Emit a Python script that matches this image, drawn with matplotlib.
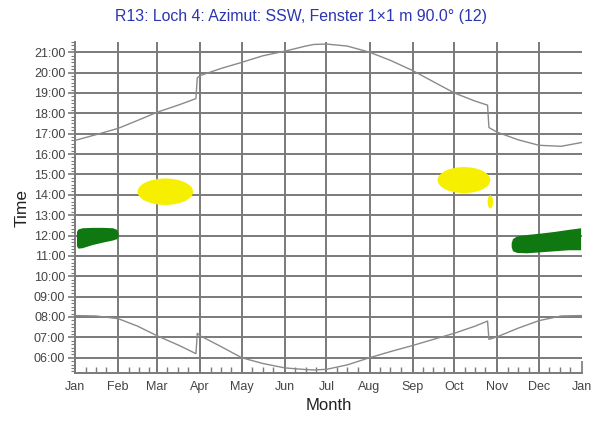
import matplotlib
matplotlib.use("Agg")
import matplotlib.pyplot as plt
from matplotlib.patches import Ellipse

plt.rcParams["font.family"] = "Liberation Sans"

# month starts (day of year) and labels
month_days = [0, 31, 59, 90, 120, 151, 181, 212, 243, 273, 304, 334, 365]
month_labels = ["Jan", "Feb", "Mar", "Apr", "May", "Jun", "Jul",
                "Aug", "Sep", "Oct", "Nov", "Dec", "Jan"]

hour_ticks = list(range(6, 22))
hour_labels = ["%02d:00" % h for h in hour_ticks]

# sunset curve (hours)
sunset_days = [0, 15, 31, 45, 59, 75, 87, 88, 90, 105, 120, 135, 151, 166,
               172, 181, 196, 212, 227, 243, 258, 273, 288, 297, 298, 304,
               319, 334, 350, 365]
sunset_hrs = [16.67, 16.95, 17.26, 17.65, 18.05, 18.42, 18.72, 19.75, 19.85,
              20.2, 20.5, 20.82, 21.05, 21.3, 21.38, 21.4, 21.3, 21.0, 20.6,
              20.1, 19.55, 19.0, 18.6, 18.4, 17.3, 17.07, 16.7, 16.43, 16.38,
              16.57]

# sunrise curve (hours)
sunrise_days = [0, 15, 31, 45, 59, 75, 87, 88, 90, 105, 120, 135, 151, 166,
                172, 181, 196, 212, 227, 243, 258, 273, 288, 297, 298, 304,
                319, 334, 350, 365]
sunrise_hrs = [8.07, 8.05, 7.92, 7.55, 7.08, 6.6, 6.2, 7.2, 7.08, 6.55, 6.0,
               5.72, 5.5, 5.42, 5.4, 5.43, 5.65, 6.0, 6.3, 6.6, 6.9, 7.2,
               7.55, 7.8, 6.9, 7.03, 7.45, 7.82, 8.05, 8.07]

# green areas (direct sun, winter)
green1_days = [1, 2, 5, 12, 20, 27, 30, 31]
green1_top = [12.2, 12.32, 12.38, 12.4, 12.4, 12.38, 12.3, 12.1]
green1_bot = [11.5, 11.38, 11.4, 11.55, 11.68, 11.78, 11.85, 11.95]

green2_days = [314, 315, 318, 325, 335, 345, 355, 364]
green2_top = [11.65, 11.85, 11.98, 12.05, 12.12, 12.2, 12.3, 12.38]
green2_bot = [11.45, 11.25, 11.17, 11.15, 11.2, 11.25, 11.3, 11.3]

# yellow areas: centre day, centre hour, width (days), height (hours)
yellow_x = [65, 280, 299]
yellow_y = [14.15, 14.72, 13.65]
yellow_w = [40, 38, 4]
yellow_h = [1.3, 1.28, 0.65]

grid_col = "#7a7a7a"

fig = plt.figure(figsize=(5.96, 4.26), dpi=100)
ax = fig.add_axes([0.126, 0.1244, 0.8505, 0.777])

# grid
ax.hlines(hour_ticks, 0, 365, color=grid_col, linewidth=1.4, zorder=1)
ax.vlines(month_days[1:12], 5.25, 21.5, color=grid_col, linewidth=1.4, zorder=1)

# sun areas
ax.fill_between(green1_days, green1_bot, green1_top, color="#107810",
                linewidth=0, zorder=2)
ax.fill_between(green2_days, green2_bot, green2_top, color="#107810",
                linewidth=0, zorder=2)
for x, y, w, h in zip(yellow_x, yellow_y, yellow_w, yellow_h):
    ax.add_patch(Ellipse((x, y), w, h, facecolor="#f7ef00",
                         edgecolor="none", zorder=2))

# sunrise / sunset
ax.plot(sunset_days, sunset_hrs, color="#8a8a8a", linewidth=1.0, zorder=3)
ax.plot(sunrise_days, sunrise_hrs, color="#8a8a8a", linewidth=1.0, zorder=3)

ax.set_xlim(0, 365)
ax.set_ylim(5.25, 21.5)

ax.set_xticks(month_days)
ax.set_xticklabels(month_labels)
minor_x = [m + d for m in month_days[:-1] for d in (7.5, 15, 22.5)]
ax.set_xticks(minor_x, minor=True)
ax.set_yticks(hour_ticks)
ax.set_yticklabels(hour_labels)
ax.set_yticks([h + k / 6 for h in range(5, 22) for k in range(6)
               if 5.25 <= h + k / 6 <= 21.5], minor=True)

ax.tick_params(axis="x", which="major", direction="in", length=9,
               color=grid_col, width=1.2, labelsize=9, labelcolor="#444444",
               pad=6)
ax.tick_params(axis="x", which="minor", direction="in", length=4,
               color=grid_col, width=1.0)
ax.tick_params(axis="y", which="major", direction="out", length=5,
               color=grid_col, width=1.2, labelsize=9, labelcolor="#444444",
               pad=2)
ax.tick_params(axis="y", which="minor", direction="out", length=3,
               color=grid_col, width=0.8)

for s in ["top", "right"]:
    ax.spines[s].set_visible(False)
for s in ["left", "bottom"]:
    ax.spines[s].set_color(grid_col)
    ax.spines[s].set_linewidth(1.4)

ax.set_xlabel("Month", fontsize=12, color="#222222", labelpad=3)
ax.set_ylabel("Time", fontsize=12.5, color="#222222", labelpad=3)

fig.text(0.505, 0.962, "R13: Loch 4: Azimut: SSW, Fenster 1\u00d71 m 90.0\u00b0 (12)",
         ha="center", va="center", fontsize=11.4, color="#2b35b0")

fig.savefig("out.png", dpi=100)
